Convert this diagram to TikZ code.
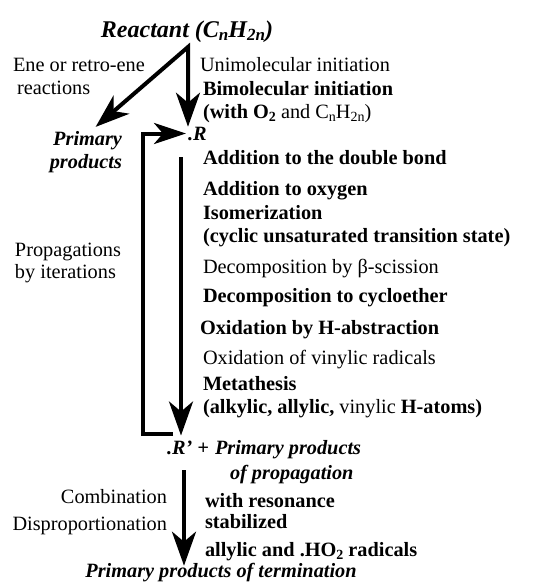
\documentclass[tikz,border=0pt]{standalone}
\usepackage{fontspec}
\setmainfont{Liberation Serif}
\usetikzlibrary{arrows.meta,calc}
\newcommand{\fsz}{\fontsize{20.3}{24}\selectfont}
\newcommand{\mysub}[1]{\raisebox{-0.35ex}{\fontsize{14}{14}\selectfont #1}}
\newcommand{\bigsub}[1]{\raisebox{-0.35ex}{\fontsize{17}{17}\selectfont #1}}
\begin{document}
\begin{tikzpicture}[x=1pt,y=-1pt,
  txt/.style={inner sep=0pt, outer sep=0pt, font=\fsz},
  bld/.style={txt, font=\fsz\bfseries},
  bit/.style={txt, font=\fsz\bfseries\itshape},
  tipA/.style={},
  arr/.style={line width=4pt, -{Stealth[length=34pt,width=24pt,inset=10pt]}},
  looparr/.style={line width=4pt, -{Stealth[length=32pt,width=21pt,inset=9pt]}}]
\fill[white] (0,0) rectangle (536,587);
\useasboundingbox (0,0) rectangle (536,587);

% top
\node[txt, font=\fontsize{24}{28}\selectfont\bfseries\itshape, anchor=base] (reactant) at (187,37) {Reactant (C\bigsub{n}H\bigsub{2n})};
\coordinate (fork) at (188,47);
\node[txt, anchor=base west] (ene1) at (13,71) {Ene or retro-ene};
\node[txt, anchor=base west] (ene2) at (17,94) {reactions};
\node[txt, anchor=base west] (uni) at (200,71) {Unimolecular initiation};
\node[bld, anchor=base west] (bimol) at (203,95) {Bimolecular initiation};
\node[txt, anchor=base west] (with) at (203,118) {\textbf{(with O\mysub{2}} and C\mysub{n}H\mysub{2n})};
\node[bit, anchor=base west] (R) at (188,140) {.R};
\node[bit, anchor=base east] (prim1) at (122,145) {Primary};
\node[bit, anchor=base east] (prim2) at (122,168) {products};

% propagation list
\node[bld, anchor=base west] (a1) at (203,164) {Addition to the double bond};
\node[bld, anchor=base west] (a2) at (203,195) {Addition to oxygen};
\node[bld, anchor=base west] (a3) at (203,219) {Isomerization};
\node[bld, anchor=base west] (a4) at (203,242) {(cyclic unsaturated transition state)};
\node[txt, anchor=base west] (a5) at (203,273) {Decomposition by β-scission};
\node[bld, anchor=base west] (a6) at (203,302) {Decomposition to cycloether};
\node[bld, anchor=base west] (a7) at (200,334) {Oxidation by H-abstraction};
\node[txt, anchor=base west] (a8) at (203,364) {Oxidation of vinylic radicals};
\node[bld, anchor=base west] (a9) at (203,390) {Metathesis};
\node[txt, anchor=base west] (a10) at (203,413) {\textbf{(alkylic, allylic,} vinylic \textbf{H-atoms)}};

\node[txt, anchor=base west] (prop1) at (15,256) {Propagations};
\node[txt, anchor=base west] (prop2) at (15,278) {by iterations};

% R' line
\node[bit, anchor=base west] (Rp) at (167,454) {.R’ +};
\node[bit, anchor=base west] (pp1) at (215,454) {Primary products};
\node[bit, anchor=base west] (pp2) at (230,479) {of propagation};

% termination
\node[txt, anchor=base east] (comb) at (167,503) {Combination};
\node[txt, anchor=base east] (disp) at (167,530) {Disproportionation};
\node[bld, anchor=base west] (t1) at (205,507) {with resonance};
\node[bld, anchor=base west] (t2) at (205,528) {stabilized};
\node[bld, anchor=base west] (t3) at (205,556) {allylic and .HO\mysub{2} radicals};
\node[bit, anchor=base] (term) at (221,577) {Primary products of termination};

% connectors
\draw[line width=4pt, {Stealth[length=34pt,width=24pt,inset=10pt]}-{Stealth[length=34pt,width=24pt,inset=10pt]}]
  ($(prim1.north)+(8,-4)$) -- (fork) -- (fork |- R.north);
\draw[arr] ($(R.south west)+(-7,17)$) -- ($(Rp.north west)+(14,-5)$);
\draw[looparr, shorten >=2pt] ($(Rp.north west)+(6,-7)$) -- ++(-30,0) |- (R.west);
\draw[arr] ($(Rp.south west)+(17,16)$) -- ($(term.north)+(-37,3)$);
\end{tikzpicture}
\end{document}
